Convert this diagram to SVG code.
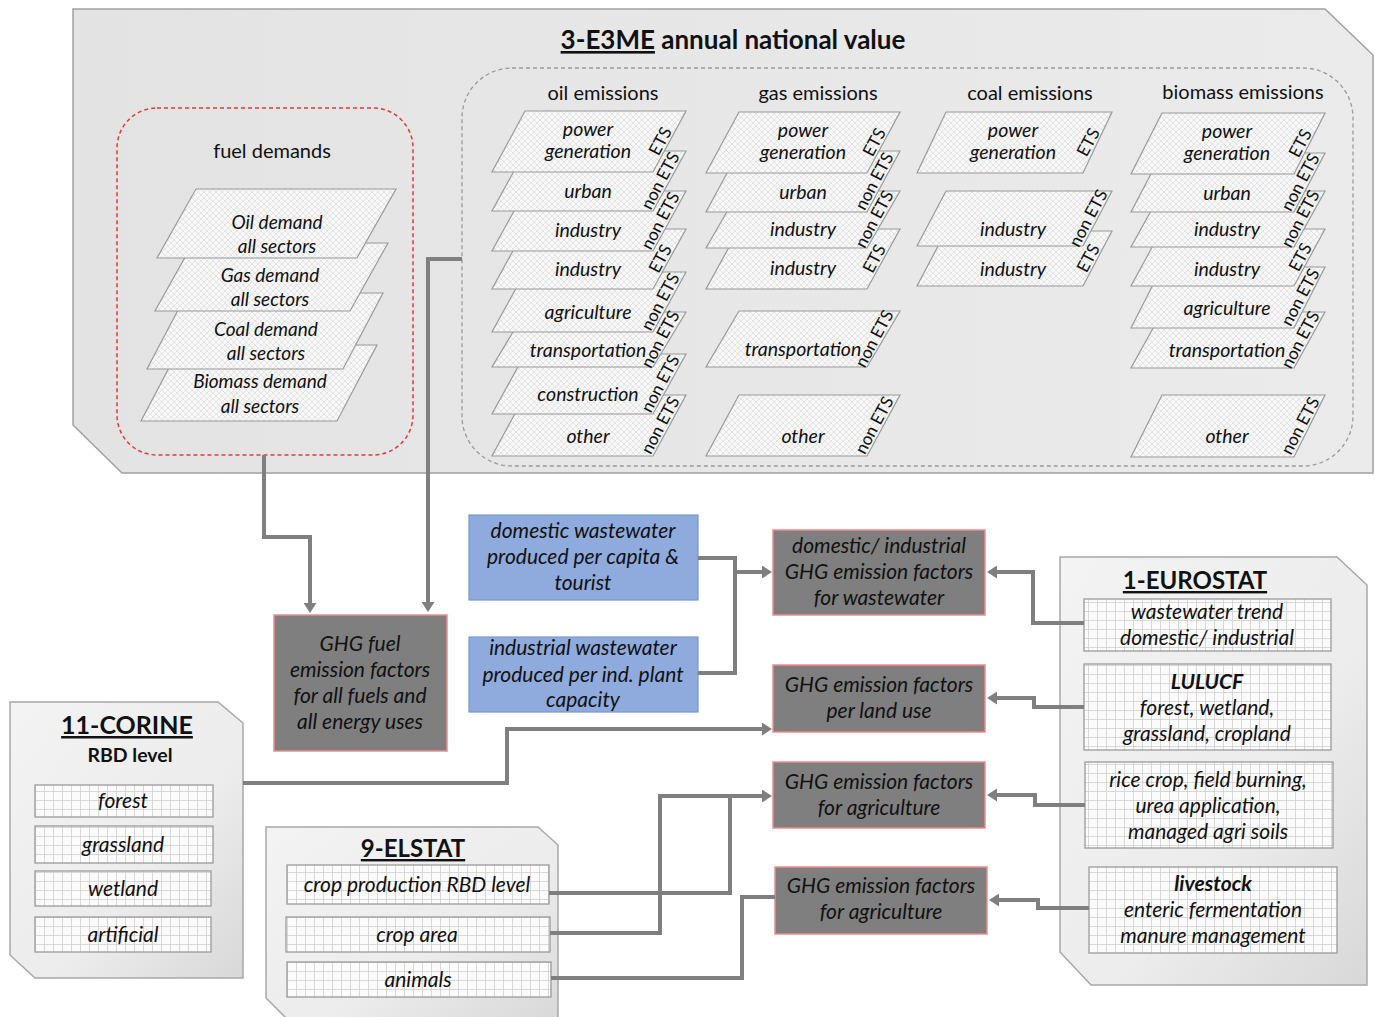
<svg xmlns="http://www.w3.org/2000/svg" width="1375" height="1017" viewBox="0 0 1375 1017">
<defs>
<pattern id="hatch" width="6" height="6" patternUnits="userSpaceOnUse">
<rect width="6" height="6" fill="#f7f7f7"/>
<path d="M0,0 L6,6 M6,0 L0,6" stroke="#d6d6d6" stroke-width="0.6"/>
</pattern>
<pattern id="grid" width="9" height="9" patternUnits="userSpaceOnUse">
<rect width="9" height="9" fill="#fbfbfb"/>
<path d="M8.5,0 V9 M0,8.5 H9" stroke="#cfcfcf" stroke-width="0.8"/>
</pattern>
<linearGradient id="panelG" x1="0" y1="0" x2="1" y2="0">
<stop offset="0" stop-color="#e3e3e3"/>
<stop offset="1" stop-color="#ebebeb"/>
</linearGradient>
<linearGradient id="srcG" x1="0" y1="0" x2="1" y2="1">
<stop offset="0" stop-color="#f3f3f3"/>
<stop offset="0.6" stop-color="#ececec"/>
<stop offset="1" stop-color="#d8d8d8"/>
</linearGradient>
<marker id="arr" viewBox="0 0 10 13" markerWidth="10" markerHeight="13" refX="4" refY="6.5" orient="auto" markerUnits="userSpaceOnUse">
<path d="M0,0 L10,6.5 L0,13 z" fill="#7f7f7f"/>
</marker>
</defs>
<style>
text{font-family:Lato,"Liberation Sans",sans-serif;fill:#111;}
.par{fill:url(#hatch);stroke:#9a9a9a;stroke-width:1.2;}
.pt{font-size:19.5px;font-style:italic;text-anchor:middle;}
.fd{font-size:19px;font-style:italic;text-anchor:middle;}
.lab{font-size:17px;text-anchor:middle;}
.hdr{font-size:20px;text-anchor:middle;}
.grid{fill:url(#grid);stroke:#9a9a9a;stroke-width:1.3;}
.gt{font-size:21px;font-style:italic;text-anchor:middle;}
.gtb{font-size:21px;font-style:italic;font-weight:bold;text-anchor:middle;}
.dark{fill:#7f7f7f;stroke:#f08a8a;stroke-width:1.5;}
.blue{fill:#8faadc;stroke:#7b98cf;stroke-width:1.2;}
.bt{font-size:21px;font-style:italic;text-anchor:middle;}
.src{fill:url(#srcG);stroke:#a8a8a8;stroke-width:1.5;}
.title{font-weight:bold;text-anchor:middle;}
.conn path{fill:none;stroke:#7f7f7f;stroke-width:4;}
</style>

<!-- E3ME panel -->
<g id="e3me">
<polygon points="73,9 1325,9 1373,55 1373,473 122,473 73,425" fill="url(#panelG)" stroke="#a0a0a0" stroke-width="1.5"/>
<text x="733" y="49" class="title" font-size="26"><tspan text-decoration="underline">3-E3ME</tspan> annual national value</text>
</g>

<!-- fuel demands -->
<g id="fuel-demands">
<rect x="117" y="108" width="296" height="347" rx="40" fill="none" stroke="#e53935" stroke-width="1.5" stroke-dasharray="4 3"/>
<text x="272" y="158" class="hdr">fuel demands</text>
<polygon class="par" points="181,345 377,345 337,421 141,421"/>
<polygon class="par" points="187,293 383,293 343,369 147,369"/>
<polygon class="par" points="193,243 388,243 350,311 155,311"/>
<polygon class="par" points="196,189 396,189 357,258 157,258"/>
<text x="277" y="229" class="fd">Oil demand</text><text x="277" y="253" class="fd">all sectors</text>
<text x="270" y="282" class="fd">Gas demand</text><text x="270" y="306" class="fd">all sectors</text>
<text x="266" y="336" class="fd">Coal demand</text><text x="266" y="360" class="fd">all sectors</text>
<text x="260" y="388" class="fd">Biomass demand</text><text x="260" y="413" class="fd">all sectors</text>
</g>

<!-- emissions container -->
<g id="emissions">
<rect x="462" y="68" width="891" height="398" rx="50" fill="none" stroke="#9a9a9a" stroke-width="1.3" stroke-dasharray="4 3"/>
<text x="603" y="100" class="hdr">oil emissions</text>
<text x="818" y="100" class="hdr">gas emissions</text>
<text x="1030" y="100" class="hdr">coal emissions</text>
<text x="1243" y="99" class="hdr">biomass emissions</text>
</g>

<!-- oil column -->
<g id="oil-emissions">
<polygon class="par" points="525,395 686,395 653,456 492,456"/>
<polygon class="par" points="525,354 686,354 653,414 492,414"/>
<polygon class="par" points="525,312 686,312 653,367 492,367"/>
<polygon class="par" points="525,272 686,272 653,332 492,332"/>
<polygon class="par" points="525,229 686,229 653,289 492,289"/>
<polygon class="par" points="525,191 686,191 653,251 492,251"/>
<polygon class="par" points="525,151 686,151 653,211 492,211"/>
<polygon class="par" points="525,111 686,111 653,172 492,172"/>
<text x="588" y="136" class="pt">power</text><text x="588" y="158" class="pt">generation</text>
<text x="588" y="198" class="pt">urban</text>
<text x="588" y="237" class="pt">industry</text>
<text x="588" y="276" class="pt">industry</text>
<text x="588" y="319" class="pt">agriculture</text>
<text x="588" y="357" class="pt">transportation</text>
<text x="588" y="401" class="pt">construction</text>
<text x="588" y="443" class="pt">other</text>
<text class="lab" transform="translate(661,141.5) rotate(-62)" y="5">ETS</text>
<text class="lab" transform="translate(661,181) rotate(-62)" y="5">non ETS</text>
<text class="lab" transform="translate(661,221) rotate(-62)" y="5">non ETS</text>
<text class="lab" transform="translate(661,259) rotate(-62)" y="5">ETS</text>
<text class="lab" transform="translate(661,302) rotate(-62)" y="5">non ETS</text>
<text class="lab" transform="translate(661,339.5) rotate(-62)" y="5">non ETS</text>
<text class="lab" transform="translate(661,384) rotate(-62)" y="5">non ETS</text>
<text class="lab" transform="translate(661,425.5) rotate(-62)" y="5">non ETS</text>
</g>

<!-- gas column -->
<g id="gas-emissions">
<polygon class="par" points="739,395 900,395 867,456 706,456"/>
<polygon class="par" points="739,311 900,311 867,367 706,367"/>
<polygon class="par" points="739,229 900,229 867,289 706,289"/>
<polygon class="par" points="739,191 900,191 867,248 706,248"/>
<polygon class="par" points="739,151 900,151 867,212 706,212"/>
<polygon class="par" points="739,112 900,112 867,173 706,173"/>
<text x="803" y="137" class="pt">power</text><text x="803" y="159" class="pt">generation</text>
<text x="803" y="199" class="pt">urban</text>
<text x="803" y="236" class="pt">industry</text>
<text x="803" y="275" class="pt">industry</text>
<text x="803" y="356" class="pt">transportation</text>
<text x="803" y="443" class="pt">other</text>
<text class="lab" transform="translate(875,142.5) rotate(-62)" y="5">ETS</text>
<text class="lab" transform="translate(875,181.5) rotate(-62)" y="5">non ETS</text>
<text class="lab" transform="translate(875,219.5) rotate(-62)" y="5">non ETS</text>
<text class="lab" transform="translate(875,259) rotate(-62)" y="5">ETS</text>
<text class="lab" transform="translate(875,339) rotate(-62)" y="5">non ETS</text>
<text class="lab" transform="translate(875,425.5) rotate(-62)" y="5">non ETS</text>
</g>

<!-- coal column -->
<g id="coal-emissions">
<polygon class="par" points="946,231 1112,231 1083,286 917,286"/>
<polygon class="par" points="946,191 1112,191 1083,246 917,246"/>
<polygon class="par" points="946,112 1112,112 1083,173 917,173"/>
<text x="1013" y="137" class="pt">power</text><text x="1013" y="159" class="pt">generation</text>
<text x="1013" y="236" class="pt">industry</text>
<text x="1013" y="276" class="pt">industry</text>
<text class="lab" transform="translate(1089,142.5) rotate(-62)" y="5">ETS</text>
<text class="lab" transform="translate(1089,218.5) rotate(-62)" y="5">non ETS</text>
<text class="lab" transform="translate(1089,258.5) rotate(-62)" y="5">ETS</text>
</g>

<!-- biomass column -->
<g id="biomass-emissions">
<polygon class="par" points="1162,395 1325,395 1294,457 1131,457"/>
<polygon class="par" points="1162,312 1325,312 1294,368 1131,368"/>
<polygon class="par" points="1162,267 1325,267 1294,328 1131,328"/>
<polygon class="par" points="1162,229 1325,229 1294,286 1131,286"/>
<polygon class="par" points="1162,191 1325,191 1294,247 1131,247"/>
<polygon class="par" points="1162,153 1325,153 1294,212 1131,212"/>
<polygon class="par" points="1162,113 1325,113 1294,174 1131,174"/>
<text x="1227" y="138" class="pt">power</text><text x="1227" y="160" class="pt">generation</text>
<text x="1227" y="200" class="pt">urban</text>
<text x="1227" y="236" class="pt">industry</text>
<text x="1227" y="276" class="pt">industry</text>
<text x="1227" y="315" class="pt">agriculture</text>
<text x="1227" y="357" class="pt">transportation</text>
<text x="1227" y="443" class="pt">other</text>
<text class="lab" transform="translate(1301,143.5) rotate(-62)" y="5">ETS</text>
<text class="lab" transform="translate(1301,182.5) rotate(-62)" y="5">non ETS</text>
<text class="lab" transform="translate(1301,219) rotate(-62)" y="5">non ETS</text>
<text class="lab" transform="translate(1301,257.5) rotate(-62)" y="5">ETS</text>
<text class="lab" transform="translate(1301,297.5) rotate(-62)" y="5">non ETS</text>
<text class="lab" transform="translate(1301,340) rotate(-62)" y="5">non ETS</text>
<text class="lab" transform="translate(1301,426) rotate(-62)" y="5">non ETS</text>
</g>

<!-- GHG fuel emission factors -->
<g id="ghg-fuel">
<rect class="dark" x="274" y="615" width="173" height="136"/>
<text x="360" y="651" class="bt">GHG fuel</text>
<text x="360" y="677" class="bt">emission factors</text>
<text x="360" y="703" class="bt">for all fuels and</text>
<text x="360" y="729" class="bt">all energy uses</text>
</g>

<!-- blue boxes -->
<g id="domestic-wastewater">
<rect class="blue" x="469" y="515" width="229" height="85"/>
<text x="583" y="538" class="bt">domestic wastewater</text>
<text x="583" y="564" class="bt">produced per capita &amp;</text>
<text x="583" y="590" class="bt">tourist</text>
</g>
<g id="industrial-wastewater">
<rect class="blue" x="469" y="637" width="229" height="75"/>
<text x="583" y="655" class="bt">industrial wastewater</text>
<text x="583" y="682" class="bt">produced per ind. plant</text>
<text x="583" y="707" class="bt">capacity</text>
</g>

<!-- dark emission factor boxes -->
<g id="ef-wastewater">
<rect class="dark" x="773" y="530" width="212" height="85"/>
<text x="879" y="553" class="bt">domestic/ industrial</text>
<text x="879" y="579" class="bt">GHG emission factors</text>
<text x="879" y="605" class="bt">for wastewater</text>
</g>
<g id="ef-landuse">
<rect class="dark" x="773" y="665" width="212" height="67"/>
<text x="879" y="692" class="bt">GHG emission factors</text>
<text x="879" y="718" class="bt">per land use</text>
</g>
<g id="ef-agriculture-1">
<rect class="dark" x="773" y="762" width="212" height="66"/>
<text x="879" y="789" class="bt">GHG emission factors</text>
<text x="879" y="815" class="bt">for agriculture</text>
</g>
<g id="ef-agriculture-2">
<rect class="dark" x="775" y="867" width="212" height="67"/>
<text x="881" y="893" class="bt">GHG emission factors</text>
<text x="881" y="919" class="bt">for agriculture</text>
</g>

<!-- EUROSTAT -->
<g id="eurostat">
<polygon class="src" points="1060,557 1337,557 1367,585 1367,985 1091,985 1060,952"/>
<text x="1195" y="589" class="title" font-size="24"><tspan text-decoration="underline">1-EUROSTAT</tspan></text>
<rect class="grid" x="1084" y="599" width="247" height="52"/>
<text x="1207" y="619" class="gt">wastewater trend</text>
<text x="1207" y="645" class="gt">domestic/ industrial</text>
<rect class="grid" x="1084" y="664" width="247" height="86"/>
<text x="1207" y="689" class="gtb">LULUCF</text>
<text x="1207" y="715" class="gt">forest, wetland,</text>
<text x="1207" y="741" class="gt">grassland, cropland</text>
<rect class="grid" x="1085" y="762" width="248" height="86"/>
<text x="1208" y="787" class="gt">rice crop, field burning,</text>
<text x="1208" y="813" class="gt">urea application,</text>
<text x="1208" y="839" class="gt">managed agri soils</text>
<rect class="grid" x="1089" y="867" width="248" height="86"/>
<text x="1213" y="891" class="gtb">livestock</text>
<text x="1213" y="917" class="gt">enteric fermentation</text>
<text x="1213" y="943" class="gt">manure management</text>
</g>

<!-- CORINE -->
<g id="corine">
<polygon class="src" points="10,702 218,702 243,723 243,978 35,978 10,955"/>
<text x="127" y="734" class="title" font-size="25"><tspan text-decoration="underline">11-CORINE</tspan></text>
<text x="130" y="762" font-size="19.5" font-weight="bold" text-anchor="middle">RBD level</text>
<rect class="grid" x="35" y="785" width="178" height="32"/>
<text x="123" y="808" class="gt">forest</text>
<rect class="grid" x="35" y="826" width="178" height="37"/>
<text x="123" y="852" class="gt">grassland</text>
<rect class="grid" x="35" y="871" width="176" height="35"/>
<text x="123" y="896" class="gt">wetland</text>
<rect class="grid" x="35" y="917" width="176" height="35"/>
<text x="123" y="942" class="gt">artificial</text>
</g>

<!-- ELSTAT -->
<g id="elstat">
<polygon class="src" points="266,827 538,827 558,845 558,1022 290,1022 266,998"/>
<text x="413" y="857" class="title" font-size="24"><tspan text-decoration="underline">9-ELSTAT</tspan></text>
<rect class="grid" x="287" y="865" width="262" height="39"/>
<text x="417" y="892" class="gt">crop production RBD level</text>
<rect class="grid" x="286" y="917" width="264" height="35"/>
<text x="417" y="942" class="gt">crop area</text>
<rect class="grid" x="287" y="962" width="264" height="35"/>
<text x="418" y="987" class="gt">animals</text>
</g>

<!-- connectors -->
<g id="connectors" class="conn">
<path d="M264,455 V537 H310 V607" marker-end="url(#arr)"/>
<path d="M462,259 H428 V606" marker-end="url(#arr)"/>
<path d="M698,558 H735 V673 H698"/>
<path d="M735,572 H766" marker-end="url(#arr)"/>
<path d="M243,783 H507 V729 H766" marker-end="url(#arr)"/>
<path d="M549,893 H730 V796"/>
<path d="M550,933 H660 V796 H766" marker-end="url(#arr)"/>
<path d="M551,978 H742 V897 H775"/>
<path d="M1084,623 H1033 V572 H993" marker-end="url(#arr)"/>
<path d="M1084,707 H1034 V698 H993" marker-end="url(#arr)"/>
<path d="M1085,805 H1035 V795 H993" marker-end="url(#arr)"/>
<path d="M1089,908 H1038 V900 H995" marker-end="url(#arr)"/>
</g>
</svg>
